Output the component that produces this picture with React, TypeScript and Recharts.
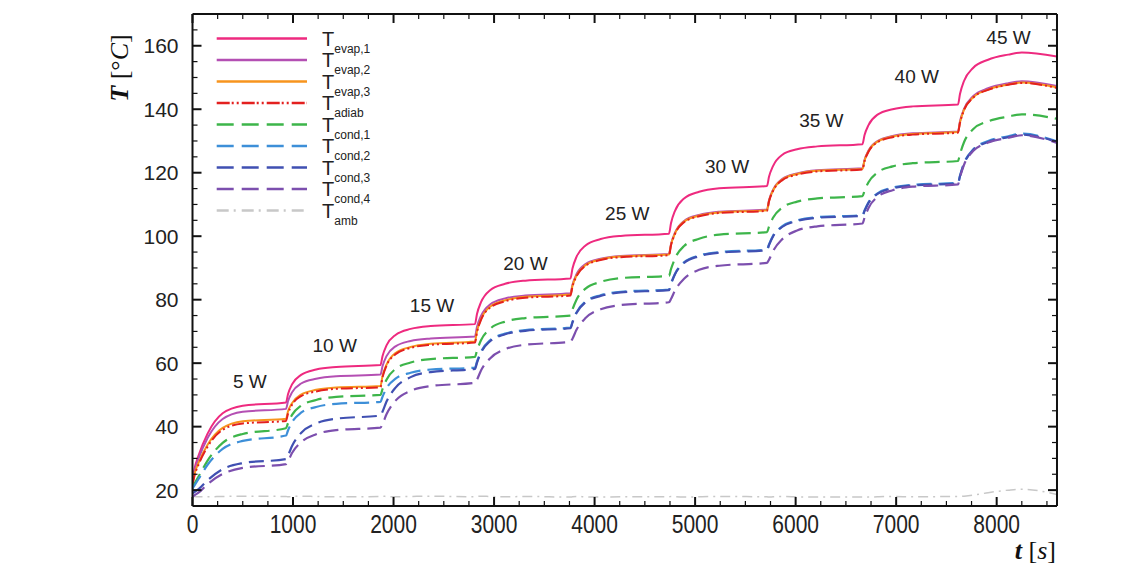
import React from 'react';
import { LineChart, Line, XAxis, YAxis, ReferenceDot } from 'recharts';

// time samples [s]
const times = [
  0, 20, 60, 150, 300, 500,
  930, 950, 990, 1080, 1230, 1430,
  1870, 1890, 1930, 2020, 2170, 2370,
  2810, 2830, 2870, 2960, 3110, 3310,
  3760, 3780, 3820, 3910, 4060, 4260,
  4740, 4760, 4800, 4890, 5040, 5240,
  5715, 5735, 5775, 5865, 6015, 6215,
  6665, 6685, 6725, 6815, 6965, 7165,
  7615, 7635, 7675, 7765, 7915, 8115, 8250, 8600,
];

const tEvap1 = [
  23, 26.7, 30.9, 37.8, 44.2, 46.6,
  47.6, 50.2, 53.3, 56.3, 58.0, 58.8,
  59.4, 62.2, 65.6, 68.9, 70.8, 71.7,
  72.3, 75.5, 79.2, 83.0, 85.0, 86.0,
  86.7, 89.8, 93.5, 97.1, 99.1, 100.1,
  100.8, 104.1, 108.0, 111.9, 114.0, 115.1,
  115.8, 118.7, 122.1, 125.6, 127.4, 128.3,
  129.0, 131.8, 135.0, 138.3, 140.0, 140.9,
  141.5, 144.8, 148.9, 153.0, 155.6, 157.2, 157.9, 156.6,
];
const tEvap2 = [
  22.5, 26.0, 29.9, 36.4, 42.4, 44.7,
  45.6, 48.0, 50.8, 53.6, 55.1, 55.9,
  56.4, 59.0, 62.2, 65.3, 67.0, 67.8,
  68.4, 71.4, 74.9, 78.5, 80.4, 81.3,
  82.0, 84.7, 88.0, 91.2, 92.9, 93.8,
  94.4, 97.5, 101.1, 104.8, 106.7, 107.7,
  108.4, 111.3, 114.6, 118.0, 119.8, 120.8,
  121.4, 124.0, 127.0, 130.0, 131.6, 132.4,
  133.0, 136.2, 140.1, 144.1, 146.6, 148.2, 148.8, 147.3,
];
const tEvap3 = [
  22, 25.1, 28.6, 34.3, 39.6, 41.7,
  42.5, 44.8, 47.4, 50.1, 51.6, 52.3,
  52.8, 55.9, 59.5, 63.2, 65.1, 66.1,
  66.8, 70.1, 73.9, 77.8, 79.8, 80.9,
  81.6, 84.4, 87.6, 90.9, 92.7, 93.6,
  94.2, 97.3, 100.9, 104.6, 106.5, 107.5,
  108.2, 111.1, 114.4, 117.8, 119.6, 120.6,
  121.2, 123.8, 126.8, 129.8, 131.4, 132.2,
  132.8, 135.9, 139.8, 143.7, 146.2, 147.8, 148.4, 146.9,
];
const tAdiab = [
  21.5, 24.5, 28.0, 33.7, 39.0, 41.0,
  41.8, 44.1, 46.9, 49.6, 51.1, 51.9,
  52.4, 55.5, 59.2, 62.8, 64.8, 65.8,
  66.5, 69.8, 73.6, 77.5, 79.5, 80.6,
  81.3, 84.1, 87.4, 90.7, 92.5, 93.4,
  94.0, 97.1, 100.7, 104.4, 106.3, 107.3,
  108.0, 110.9, 114.2, 117.6, 119.4, 120.4,
  121.0, 123.6, 126.6, 129.6, 131.2, 132.0,
  132.6, 135.7, 139.7, 143.6, 146.1, 147.7, 148.3, 146.7,
];
const tCond1 = [
  21, 22.1, 24.3, 29.3, 34.9, 37.7,
  39.5, 41.1, 43.7, 46.6, 48.4, 49.4,
  50.0, 51.8, 54.8, 58.2, 60.2, 61.3,
  62.0, 64.0, 67.2, 70.8, 73.1, 74.2,
  75.0, 76.9, 80.0, 83.5, 85.6, 86.8,
  87.5, 89.6, 93.0, 96.9, 99.2, 100.5,
  101.3, 103.0, 105.8, 109.0, 110.9, 111.9,
  112.6, 114.3, 117.0, 120.1, 122.0, 123.0,
  123.7, 125.9, 129.6, 133.7, 136.2, 137.7, 138.4, 137.0,
];
const tCond2 = [
  20.5, 21.5, 23.5, 28.0, 33.0, 35.5,
  37.2, 38.8, 41.4, 44.4, 46.2, 47.2,
  47.8, 49.4, 52.1, 55.1, 57.0, 58.0,
  58.6, 60.5, 63.6, 67.2, 69.3, 70.4,
  71.2, 73.0, 76.0, 79.4, 81.4, 82.5,
  83.2, 85.1, 88.2, 91.8, 93.9, 95.0,
  95.8, 97.4, 100.1, 103.1, 105.0, 106.0,
  106.6, 108.1, 110.7, 113.5, 115.3, 116.2,
  116.8, 119.1, 123.0, 127.3, 130.0, 131.5, 132.3, 129.9,
];
const tCond3 = [
  19, 19.4, 20.3, 23.1, 26.6, 28.5,
  29.8, 30.9, 33.9, 38.0, 41.0, 42.5,
  43.5, 44.7, 47.9, 52.3, 55.6, 57.2,
  58.2, 60.1, 63.3, 66.9, 69.1, 70.2,
  71.0, 72.8, 75.8, 79.2, 81.2, 82.3,
  83.0, 84.9, 88.0, 91.6, 93.7, 94.8,
  95.6, 97.2, 99.9, 102.9, 104.8, 105.8,
  106.4, 107.9, 110.5, 113.3, 115.1, 116.0,
  116.6, 118.9, 122.8, 127.1, 129.7, 131.2, 132.0, 129.7,
];
const tCond4 = [
  18, 18.4, 19.2, 21.9, 25.1, 27.0,
  28.2, 29.1, 31.7, 35.1, 37.6, 38.9,
  39.7, 40.8, 43.9, 48.2, 51.3, 52.8,
  53.8, 54.8, 57.7, 61.5, 64.4, 65.8,
  66.7, 67.7, 70.5, 74.2, 77.0, 78.3,
  79.2, 80.2, 82.9, 86.6, 89.4, 90.7,
  91.6, 92.6, 95.3, 99.0, 101.8, 103.1,
  104.0, 105.8, 108.9, 112.4, 114.5, 115.6,
  116.3, 118.6, 122.5, 126.8, 129.5, 131.0, 131.8, 129.4,
];
const tAmb = [
  18.0, 18.0, 17.9, 17.9, 18.0, 18.1,
  18.0, 17.9, 18.0, 18.1, 18.0, 17.9,
  18.0, 18.1, 18.0, 17.9, 18.0, 18.1,
  17.9, 18.0, 18.1, 18.0, 17.9, 18.0,
  17.8, 17.9, 18.0, 17.9, 17.8, 17.9,
  17.9, 18.0, 17.9, 17.8, 17.9, 18.0,
  17.9, 17.8, 17.9, 18.0, 17.9, 17.8,
  17.8, 17.9, 17.8, 17.9, 18.0, 17.9,
  18.0, 18.0, 18.1, 18.4, 19.2, 20.0, 20.3, 18.6,
];

const xMajor = [0, 1000, 2000, 3000, 4000, 5000, 6000, 7000, 8000];
const xMinor = [250, 500, 750, 1250, 1500, 1750, 2250, 2500, 2750, 3250, 3500, 3750, 4250, 4500, 4750,
  5250, 5500, 5750, 6250, 6500, 6750, 7250, 7500, 7750, 8250, 8500];
const yMajor = [20, 40, 60, 80, 100, 120, 140, 160];
const yMinor = [25, 30, 35, 45, 50, 55, 65, 70, 75, 85, 90, 95, 105, 110, 115, 125, 130, 135,
  145, 150, 155, 165];

const powerLabels = ['5 W', '10 W', '15 W', '20 W', '25 W', '30 W', '35 W', '40 W', '45 W'];
const powerLabelT = [571, 1415, 2383, 3312, 4325, 5318, 6256, 7205, 8118];
const powerLabelV = [54.2, 65.7, 78.3, 91.6, 107.2, 121.9, 136.4, 150.3, 162.8];

const legendSubs = ['evap,1', 'evap,2', 'evap,3', 'adiab', 'cond,1', 'cond,2', 'cond,3', 'cond,4', 'amb'];
const legendKeys = ['e1', 'e2', 'e3', 'ad', 'c1', 'c2', 'c3', 'c4', 'amb'];

const xTicksAll = [...xMajor, ...xMinor].sort((a, b) => a - b);
const yTicksAll = [...yMajor, ...yMinor].sort((a, b) => a - b);

const data = times.map((t, i) => ({
  t,
  e1: tEvap1[i],
  e2: tEvap2[i],
  e3: tEvap3[i],
  ad: tAdiab[i],
  c1: tCond1[i],
  c2: tCond2[i],
  c3: tCond3[i],
  c4: tCond4[i],
  amb: tAmb[i],
}));

const styleOf: Record<string, { color: string; dash?: string; width: number }> = {
  e1: { color: '#ee2a7f', width: 2 },
  e2: { color: '#b44fb3', width: 2 },
  e3: { color: '#f7941e', width: 2 },
  ad: { color: '#e3201f', dash: '12 3 2 3 2 3', width: 2 },
  c1: { color: '#3db54a', dash: '15 7', width: 2.2 },
  c2: { color: '#3d8fd8', dash: '15 7', width: 2.2 },
  c3: { color: '#4050b2', dash: '15 7', width: 2.2 },
  c4: { color: '#7c4fae', dash: '15 7', width: 2.2 },
  amb: { color: '#c8c8c8', dash: '10 5 2 5', width: 1.5 },
};

const drawOrder = ['amb', 'e1', 'e2', 'e3', 'ad', 'c1', 'c2', 'c3', 'c4'];

const SANS = '"Liberation Sans", Arial, Helvetica, sans-serif';
const SERIF = '"Liberation Serif", "Times New Roman", serif';
const INK = '#111';

const XTick = (props: any) => {
  const { x, y, payload } = props;
  const major = xMajor.includes(payload.value);
  return (
    <g>
      <line x1={x} x2={x} y1={y} y2={y - (major ? 9 : 5)} stroke={INK} strokeWidth={major ? 2 : 1.2} />
      {major && (
        <g transform={`translate(${x},${y + 18}) scale(1,1.2)`}>
          <text x={0} y={0} dy="0.36em" textAnchor="middle" fontFamily={SANS} fontSize={21} fill="#222">
            {payload.value}
          </text>
        </g>
      )}
    </g>
  );
};

const YTick = (props: any) => {
  const { x, y, payload } = props;
  const major = yMajor.includes(payload.value);
  return (
    <g>
      <line x1={x} x2={x + (major ? 9 : 5)} y1={y} y2={y} stroke={INK} strokeWidth={major ? 2 : 1.2} />
      {major && (
        <text x={x - 14} y={y} dy="0.36em" textAnchor="end" fontFamily={SANS} fontSize={21} fill="#222">
          {payload.value}
        </text>
      )}
    </g>
  );
};

const TopTick = (props: any) => {
  const { x, y, payload } = props;
  const major = xMajor.includes(payload.value);
  return <line x1={x} x2={x} y1={y} y2={y + (major ? 9 : 5)} stroke={INK} strokeWidth={major ? 2 : 1.2} />;
};

const RightTick = (props: any) => {
  const { x, y, payload } = props;
  const major = yMajor.includes(payload.value);
  return <line x1={x} x2={x - (major ? 9 : 5)} y1={y} y2={y} stroke={INK} strokeWidth={major ? 2 : 1.2} />;
};

const W = 1130;
const H = 560;
const X_DOMAIN: [number, number] = [0, 8600];
const Y_DOMAIN: [number, number] = [15, 170];
const axisStroke = { stroke: INK, strokeWidth: 2 };

export default function App() {
  return (
    <div style={{ position: 'relative', width: W, height: H, background: '#fff' }}>
      <LineChart width={W} height={H} data={data} margin={{ top: 6, right: 81, bottom: 0, left: 0 }}>
        <XAxis
          xAxisId="x"
          dataKey="t"
          type="number"
          domain={X_DOMAIN}
          allowDataOverflow
          ticks={xTicksAll}
          interval={0}
          tick={<XTick />}
          tickLine={false}
          tickSize={0}
          tickMargin={0}
          axisLine={axisStroke}
          height={62}
        />
        <XAxis
          xAxisId="xTop"
          dataKey="t"
          orientation="top"
          type="number"
          domain={X_DOMAIN}
          allowDataOverflow
          ticks={xTicksAll}
          interval={0}
          tick={<TopTick />}
          tickLine={false}
          tickSize={0}
          tickMargin={0}
          axisLine={axisStroke}
          height={0.01}
        />
        <YAxis
          yAxisId="y"
          type="number"
          domain={Y_DOMAIN}
          allowDataOverflow
          ticks={yTicksAll}
          interval={0}
          tick={<YTick />}
          tickLine={false}
          tickSize={0}
          tickMargin={0}
          axisLine={axisStroke}
          width={184.5}
        />
        <YAxis
          yAxisId="yRight"
          orientation="right"
          type="number"
          domain={Y_DOMAIN}
          allowDataOverflow
          ticks={yTicksAll}
          interval={0}
          tick={<RightTick />}
          tickLine={false}
          tickSize={0}
          tickMargin={0}
          axisLine={axisStroke}
          width={0.01}
        />

        {drawOrder.map((k) => (
          <Line
            key={k}
            xAxisId="x"
            yAxisId="y"
            dataKey={k}
            type="monotone"
            stroke={styleOf[k].color}
            strokeWidth={styleOf[k].width}
            strokeDasharray={styleOf[k].dash}
            dot={false}
            activeDot={false}
            isAnimationActive={false}
          />
        ))}
        {/* invisible carrier so the frame axes receive a data domain */}
        <Line xAxisId="xTop" yAxisId="yRight" dataKey="amb" stroke="none" dot={false} activeDot={false}
          isAnimationActive={false} />

        {powerLabels.map((lab, i) => (
          <ReferenceDot
            key={lab}
            xAxisId="x"
            yAxisId="y"
            x={powerLabelT[i]}
            y={powerLabelV[i]}
            r={0}
            fill="none"
            stroke="none"
            label={{ value: lab, position: 'center', fill: '#222', fontSize: 19, fontFamily: SANS }}
          />
        ))}
      </LineChart>

      <svg width={W} height={H} style={{ position: 'absolute', left: 0, top: 0, pointerEvents: 'none' }}>
        {legendKeys.map((k, i) => {
          const y = 30.5 + i * 21.5;
          const s = styleOf[k];
          return (
            <g key={k}>
              <line x1={208.7} x2={299} y1={y} y2={y} stroke={s.color} strokeWidth={2.5}
                strokeDasharray={k === 'ad' ? '13 2 2 3 2 3' : k === 'amb' ? '12 5 2 6' : s.dash ? '17 8' : undefined} />
              <text x={314} y={y + 7} fontFamily={SANS} fontSize={20} fill="#222">
                T
                <tspan dy={7} fontSize={12}>{legendSubs[i]}</tspan>
              </text>
            </g>
          );
        })}
        <g transform="translate(111,60) rotate(-90)">
          <text x={0} y={0} dy="0.35em" textAnchor="middle" fontFamily={SERIF} fontSize={26} fill={INK}>
            <tspan fontWeight="bold" fontStyle="italic">T</tspan>
            <tspan> [°</tspan>
            <tspan fontStyle="italic">C</tspan>
            <tspan>]</tspan>
          </text>
        </g>
        <text x={1048} y={551} textAnchor="end" fontFamily={SERIF} fontSize={26} fill={INK}>
          <tspan fontWeight="bold" fontStyle="italic">t</tspan>
          <tspan> [</tspan>
          <tspan fontStyle="italic">s</tspan>
          <tspan>]</tspan>
        </text>
      </svg>
    </div>
  );
}
